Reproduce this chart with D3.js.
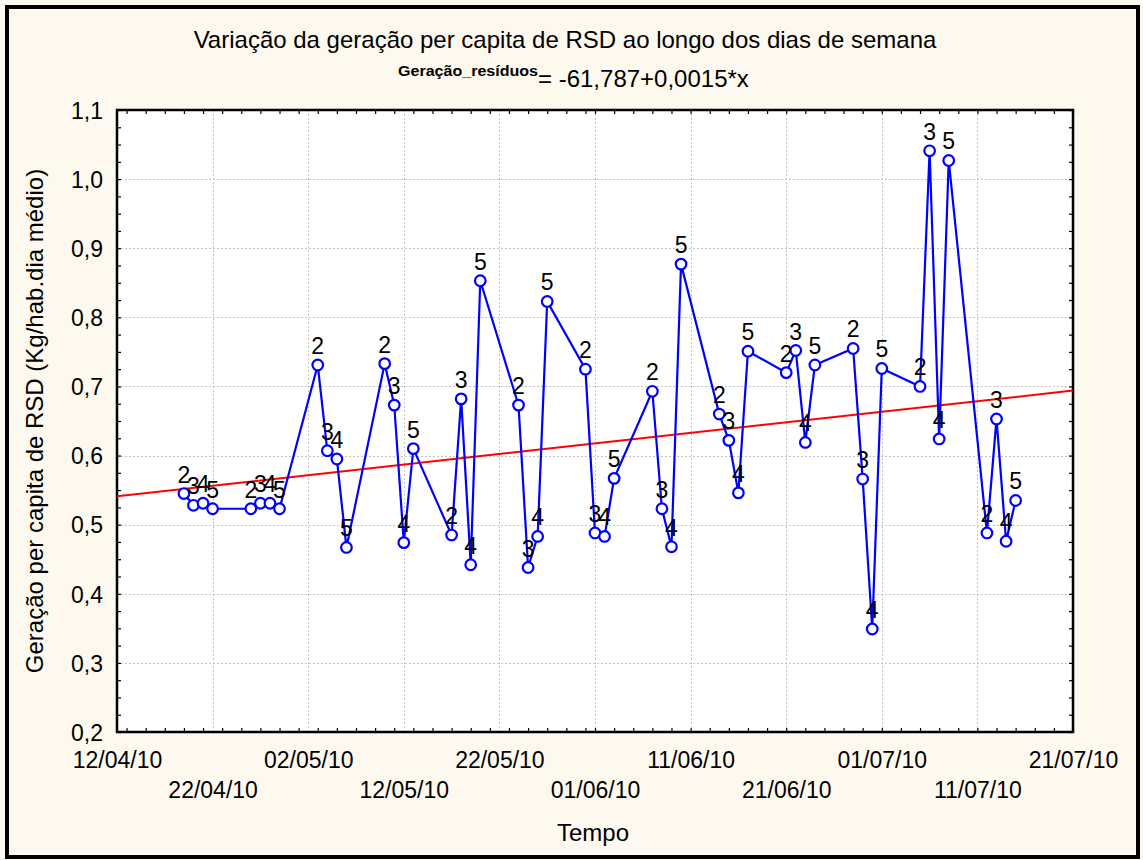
<!DOCTYPE html>
<html>
<head>
<meta charset="utf-8">
<script src="https://cdn.jsdelivr.net/npm/d3@7"></script>
<style>
  html, body { margin: 0; padding: 0; background: #fdf9ee; }
  svg { display: block; }
  text { font-family: "Liberation Sans", Arial, sans-serif; fill: #000; }
</style>
</head>
<body>
<svg id="chart" width="1143" height="860"></svg>
<script>
// ---------------- data ----------------
const dates = [
  "2010-04-19","2010-04-20","2010-04-21","2010-04-22",
  "2010-04-26","2010-04-27","2010-04-28","2010-04-29",
  "2010-05-03","2010-05-04","2010-05-05","2010-05-06",
  "2010-05-10","2010-05-11","2010-05-12","2010-05-13",
  "2010-05-17","2010-05-18","2010-05-19","2010-05-20",
  "2010-05-24","2010-05-25","2010-05-26","2010-05-27",
  "2010-05-31","2010-06-01","2010-06-02","2010-06-03",
  "2010-06-07","2010-06-08","2010-06-09","2010-06-10",
  "2010-06-14","2010-06-15","2010-06-16","2010-06-17",
  "2010-06-21","2010-06-22","2010-06-23","2010-06-24",
  "2010-06-28","2010-06-29","2010-06-30","2010-07-01",
  "2010-07-05","2010-07-06","2010-07-07","2010-07-08",
  "2010-07-12","2010-07-13","2010-07-14","2010-07-15"
];
const values = [
  0.545, 0.528, 0.531, 0.523,
  0.523, 0.531, 0.531, 0.523,
  0.731, 0.607, 0.595, 0.467,
  0.733, 0.673, 0.474, 0.610,
  0.485, 0.682, 0.442, 0.853,
  0.673, 0.438, 0.483, 0.823,
  0.725, 0.488, 0.483, 0.567,
  0.693, 0.523, 0.468, 0.877,
  0.660, 0.622, 0.546, 0.751,
  0.720, 0.752, 0.619, 0.731,
  0.755, 0.566, 0.349, 0.726,
  0.700, 1.041, 0.624, 1.027,
  0.488, 0.653, 0.476, 0.535
];
const dayLabels = [
  2,3,4,5, 2,3,4,5, 2,3,4,5, 2,3,4,5, 2,3,4,5, 2,3,4,5, 2,3,4,5,
  2,3,4,5, 2,3,4,5, 2,3,4,5, 2,3,4,5, 2,3,4,5, 2,3,4,5
];
const xTickDates = ["2010-04-12","2010-04-22","2010-05-02","2010-05-12","2010-05-22",
  "2010-06-01","2010-06-11","2010-06-21","2010-07-01","2010-07-11","2010-07-21"];
const xTickLabels = ["12/04/10","22/04/10","02/05/10","12/05/10","22/05/10",
  "01/06/10","11/06/10","21/06/10","01/07/10","11/07/10","21/07/10"];
const yTicks = [0.2,0.3,0.4,0.5,0.6,0.7,0.8,0.9,1.0,1.1];
const yTickLabels = ["0,2","0,3","0,4","0,5","0,6","0,7","0,8","0,9","1,0","1,1"];
const trendDates = ["2010-04-12","2010-07-21"];
const trendValues = [0.541, 0.694];

const titleText = "Variação da geração per capita de RSD ao longo dos dias de semana";
const eqVarText = "Geração_resíduos";
const eqText = "= -61,787+0,0015*x";
const xTitle = "Tempo";
const yTitle = "Geração per capita de RSD (Kg/hab.dia médio)";

// ---------------- layout ----------------
const L = 117, R = 1073, T = 110, B = 732;
const parse = d3.timeParse("%Y-%m-%d");
const svg = d3.select("#chart");

svg.append("rect").attr("x", 7).attr("y", 7).attr("width", 1131).attr("height", 850)
  .attr("fill", "#fdf9ee").attr("stroke", "#000").attr("stroke-width", 4);

const x = d3.scaleTime().domain([parse(xTickDates[0]), parse(xTickDates[xTickDates.length-1])]).range([L, R]);
const y = d3.scaleLinear().domain([0.2, 1.1]).range([B, T]);

svg.append("rect").attr("x", L).attr("y", T).attr("width", R-L).attr("height", B-T).attr("fill", "#fff");

// grid
const grid = svg.append("g").attr("stroke", "#c4c4c4").attr("stroke-width", 1).attr("stroke-dasharray", "2,2");
grid.selectAll(".gx").data(xTickDates.slice(1, -1)).join("line")
  .attr("x1", d => Math.round(x(parse(d))) + 0.5).attr("x2", d => Math.round(x(parse(d))) + 0.5)
  .attr("y1", T).attr("y2", B);
grid.selectAll(".gy").data(yTicks.slice(1, -1)).join("line")
  .attr("y1", d => Math.round(y(d)) + 0.5).attr("y2", d => Math.round(y(d)) + 0.5)
  .attr("x1", L).attr("x2", R);

// minor ticks
const minorX = d3.timeDay.every(2).range(parse(xTickDates[0]), d3.timeDay.offset(parse(xTickDates[xTickDates.length-1]), 1));
const minorY = d3.range(0.2, 1.1001, 0.025);
function axisG(axis, tx, ty) {
  const g = svg.append("g").attr("transform", `translate(${tx},${ty})`).call(axis);
  g.select(".domain").remove();
  g.selectAll("line").attr("stroke", "#000").attr("stroke-width", 1.2);
  return g;
}
axisG(d3.axisBottom(x).tickValues(minorX).tickSize(-4).tickFormat(""), 0, B);
axisG(d3.axisTop(x).tickValues(minorX).tickSize(-4).tickFormat(""), 0, T);
axisG(d3.axisLeft(y).tickValues(minorY).tickSize(-4).tickFormat(""), L, 0);
axisG(d3.axisRight(y).tickValues(minorY).tickSize(-4).tickFormat(""), R, 0);

// labelled axes
const xAx = axisG(d3.axisBottom(x).tickValues(xTickDates.map(parse)).tickSize(0)
  .tickFormat((d, i) => xTickLabels[i]), 0, B);
xAx.selectAll("text").attr("font-size", 23).attr("font-family", "Liberation Sans, Arial, sans-serif")
  .attr("fill", "#000").attr("dy", null)
  .attr("y", (d, i) => i % 2 === 0 ? 36 : 66);

const yAx = axisG(d3.axisLeft(y).tickValues(yTicks).tickSize(0)
  .tickFormat((d, i) => yTickLabels[i]), L, 0);
yAx.selectAll("text").attr("font-size", 23).attr("font-family", "Liberation Sans, Arial, sans-serif")
  .attr("fill", "#000").attr("x", -14).attr("dy", "0.36em");

// frame of plot
svg.append("rect").attr("x", L).attr("y", T).attr("width", R-L).attr("height", B-T)
  .attr("fill", "none").attr("stroke", "#000").attr("stroke-width", 2.5);

// clip
svg.append("clipPath").attr("id", "clip").append("rect")
  .attr("x", L).attr("y", T).attr("width", R-L).attr("height", B-T);

// trend line
svg.append("line").attr("clip-path", "url(#clip)")
  .attr("x1", x(parse(trendDates[0]))).attr("y1", y(trendValues[0]))
  .attr("x2", x(parse(trendDates[1]))).attr("y2", y(trendValues[1]))
  .attr("stroke", "#ff0000").attr("stroke-width", 2);

const pts = dates.map((d, i) => ({ date: parse(d), v: values[i], lab: dayLabels[i] }));

svg.append("path").datum(pts)
  .attr("fill", "none").attr("stroke", "#0000ff").attr("stroke-width", 2.2)
  .attr("d", d3.line().x(d => x(d.date)).y(d => y(d.v)));

svg.append("g").selectAll("circle").data(pts).join("circle")
  .attr("cx", d => x(d.date)).attr("cy", d => y(d.v)).attr("r", 5.3)
  .attr("fill", "#fff").attr("stroke", "#0000ff").attr("stroke-width", 2.2);

svg.append("g").selectAll("text").data(pts).join("text")
  .attr("x", d => x(d.date)).attr("y", d => y(d.v) - 11)
  .attr("text-anchor", "middle").attr("font-size", 23)
  .text(d => d.lab);

// titles
svg.append("text").attr("x", 565).attr("y", 48).attr("text-anchor", "middle")
  .attr("font-size", 24).text(titleText);
const eq = svg.append("text").attr("x", 398).attr("y", 87).attr("text-anchor", "start");
eq.append("tspan").attr("font-size", 14).attr("font-weight", "bold").attr("dy", -11)
  .attr("textLength", 140).attr("lengthAdjust", "spacingAndGlyphs").text(eqVarText);
eq.append("tspan").attr("font-size", 24).attr("dy", 11).text(eqText);

svg.append("text").attr("x", 593).attr("y", 841).attr("text-anchor", "middle")
  .attr("font-size", 24).text(xTitle);
svg.append("text").attr("transform", "translate(43,421) rotate(-90)").attr("text-anchor", "middle")
  .attr("font-size", 24).text(yTitle);
</script>
</body>
</html>
